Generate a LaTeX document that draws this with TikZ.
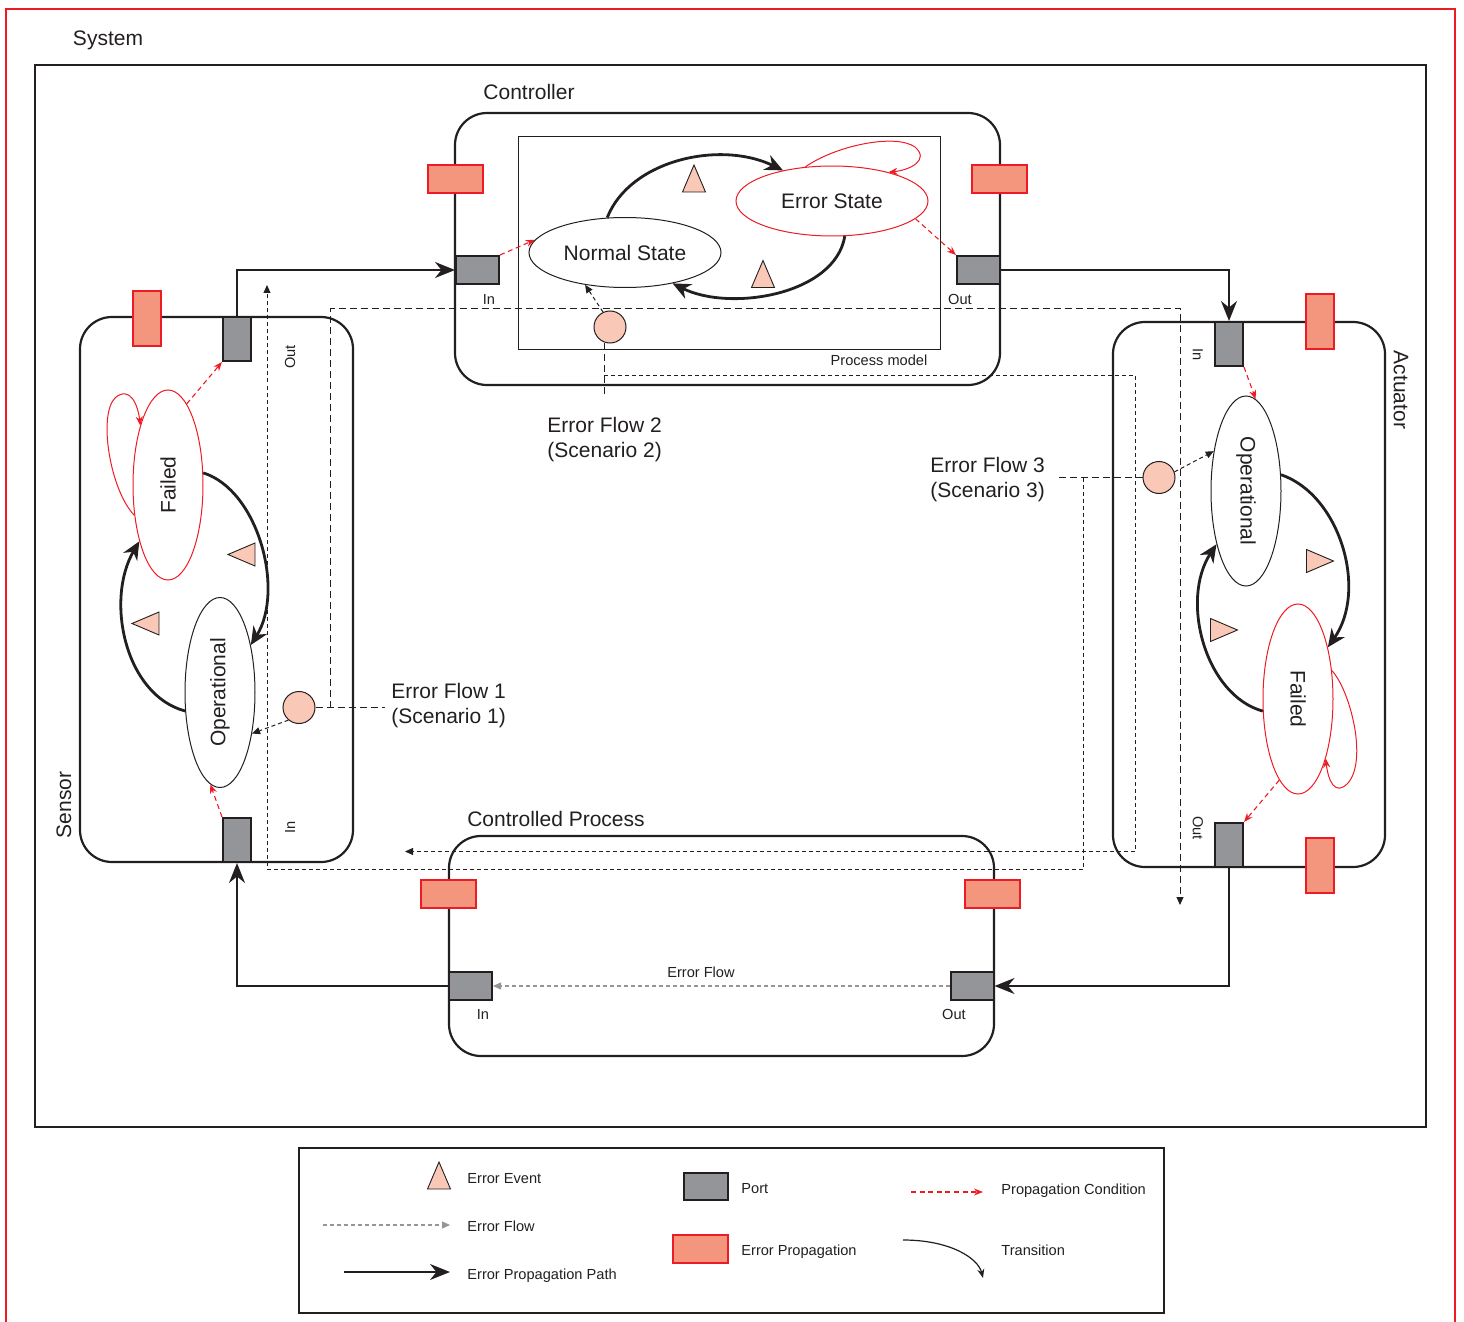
\documentclass[tikz,border=0pt]{standalone}
\usepackage{fontspec}
\setmainfont{Liberation Sans}
\usepackage{graphicx}
\usetikzlibrary{arrows.meta,shapes.geometric}
\definecolor{ink}{HTML}{231F20}
\definecolor{portgray}{HTML}{939598}
\definecolor{propfill}{HTML}{F4967D}
\definecolor{propred}{HTML}{ED1C24}
\definecolor{peach}{HTML}{F9C8B6}
\definecolor{flowgray}{HTML}{939598}
\tikzset{evt/.pic={\draw[ink,fill=peach,line width=0.45pt] (0,-13.5) -- (11.5,13.5) -- (-11.5,13.5) -- cycle;}}
\begin{document}
\begin{tikzpicture}[x=0.5pt,y=-0.5pt,
 bigtxt/.style={font=\fontsize{10.5}{12.5}\selectfont,text=ink,inner sep=0pt},
 smalltxt/.style={font=\fontsize{7.3}{9}\selectfont,text=ink,inner sep=0pt},
 compbox/.style={draw=ink,line width=1.1pt,rounded corners=16pt,inner sep=0pt},
 porth/.style={draw=ink,fill=portgray,line width=1pt,minimum width=21.5pt,minimum height=14pt,inner sep=0pt},
 portv/.style={porth,minimum width=14pt,minimum height=22pt},
 proph/.style={draw=propred,fill=propfill,line width=1pt,minimum width=27.5pt,minimum height=14pt,inner sep=0pt},
 propv/.style={proph,minimum width=14pt,minimum height=27.5pt},
 stel/.style={ellipse,draw=ink,fill=white,line width=0.5pt,inner sep=0pt,bigtxt},
 stelh/.style={stel,minimum width=96pt,minimum height=35pt},
 stelv/.style={stel,minimum width=35pt,minimum height=95pt},
 errst/.style={draw=propred},
 flowc/.style={circle,draw=ink,fill=peach,line width=0.5pt,minimum size=16pt,inner sep=0pt},
 trans/.style={draw=ink,line width=1.4pt,-{Stealth[length=9pt,width=8pt]}},
 epp/.style={draw=ink,line width=1pt,-{Stealth[length=10pt,width=8pt]}},
 prop/.style={draw=propred,line width=0.55pt,dash pattern=on 2.5pt off 1.8pt,-{Stealth[length=4.5pt,width=3.5pt]}},
 loopr/.style={draw=propred,line width=0.5pt,-{Stealth[length=4.5pt,width=3.5pt]}},
 flowlong/.style={draw=ink,line width=0.5pt,dash pattern=on 3.5pt off 2pt},
 flowshort/.style={draw=ink,line width=0.5pt,dash pattern=on 2pt off 1.5pt},
 ftip/.style={-{Triangle[length=4pt,width=3.5pt]}},
 cpflow/.style={draw=flowgray,line width=0.6pt,dash pattern=on 2pt off 1.5pt,-{Triangle[length=4pt,width=3.5pt]}}
]
\useasboundingbox (0,0) rectangle (1464,1322);
% outer frame
\coordinate (fr1) at (6,1322);
\coordinate (fr2) at (6,9);
\coordinate (fr3) at (1455,9);
\coordinate (fr4) at (1455,1322);
\draw[propred,line width=1.1pt] (fr1) -- (fr2) -- (fr3) -- (fr4);
\node[bigtxt] (lsys) at (108,40) {System};
\node[draw=ink,line width=1pt,minimum width=695.5pt,minimum height=531pt,inner sep=0pt] (sys) at (730.5,596) {};

% ---------- dashed error flows (under everything) ----------
\coordinate (f1a) at (330,707.5);
\coordinate (f1b) at (330,309);
\coordinate (f1c) at (1180,309);
\coordinate (f1d) at (1180,905);
\draw[flowlong,ftip] (f1a) -- (f1b) -- (f1c) -- (f1d);
\coordinate (f2a) at (604,343);
\coordinate (f2l) at (604,395);
\draw[flowlong] (f2a) -- (f2l);
\coordinate (f2b) at (604,375);
\coordinate (f2c) at (1135,375);
\coordinate (f2d) at (1135,851.5);
\coordinate (f2e) at (405,851.5);
\draw[flowshort,ftip] (f2b) -- (f2c) -- (f2d) -- (f2e);
\coordinate (f3a) at (1083,477.5);
\coordinate (f3b) at (1083,869);
\coordinate (f3c) at (267,869);
\coordinate (f3d) at (267,285);
\draw[flowshort,ftip] (f3a) -- (f3b) -- (f3c) -- (f3d);

% ---------- containers ----------
\node[compbox,minimum width=272.5pt,minimum height=136pt] (ctrl) at (727.5,249) {};
\node[draw=ink,line width=0.5pt,minimum width=211pt,minimum height=106pt,inner sep=0pt] (pm) at (729,243) {};
\node[compbox,minimum width=136.5pt,minimum height=272.5pt] (sens) at (216.5,589.5) {};
\node[compbox,minimum width=136pt,minimum height=272.5pt] (act) at (1249,594.5) {};
\node[compbox,minimum width=272.5pt,minimum height=110pt] (cp) at (721.5,946) {};

% labels
\node[bigtxt] (lctrl) at (529,92) {Controller};
\node[smalltxt] (lpm) at (879,360) {Process model};
\node[bigtxt,rotate=90] (lsens) at (64,805) {Sensor};
\node[bigtxt,rotate=-90] (lact) at (1401,390) {Actuator};
\node[bigtxt] (lcp) at (556,819) {Controlled Process};

% error propagations
\node[proph] (cpl) at (455.5,179) {};
\node[proph] (cpr) at (999.5,179) {};
\node[propv] (spr) at (147,318.5) {};
\node[propv] (apr1) at (1320,321.5) {};
\node[propv] (apr2) at (1320,865.5) {};
\node[proph] (cppl) at (448.5,894) {};
\node[proph] (cppr) at (992.5,894) {};

% ports
\node[porth] (cin) at (477.5,270) {};
\node[porth] (cout) at (978.5,270) {};
\node[portv] (sout) at (237,339) {};
\node[portv] (sin) at (237,840) {};
\node[portv] (ain) at (1229,344) {};
\node[portv] (aout) at (1229,845) {};
\node[porth] (cpin) at (470.5,986) {};
\node[porth] (cpout) at (972,986) {};

\node[smalltxt] (lcin) at (489,299) {In};
\node[smalltxt] (lcout) at (960,299) {Out};
\node[smalltxt,rotate=90] (lsout) at (290,357) {Out};
\node[smalltxt,rotate=90] (lsin) at (290,827) {In};
\node[smalltxt,rotate=-90] (lain) at (1198,355) {In};
\node[smalltxt,rotate=-90] (laout) at (1198,828) {Out};
\node[smalltxt] (lcpin) at (483,1014) {In};
\node[smalltxt] (lcpout) at (954,1014) {Out};

% ---------- states ----------
\node[stelh] (ns) at (625,252.5) {Normal State};
\node[stelh,errst] (es) at (832,201) {Error State};
\node[stelv,errst] (sf) at (168,485) {\rotatebox{90}{Failed}};
\node[stelv] (so) at (220,692.5) {\rotatebox{90}{Operational}};
\node[stelv] (ao) at (1246,491) {\rotatebox{-90}{Operational}};
\node[stelv,errst] (af) at (1298,699) {\rotatebox{-90}{Failed}};

% transitions
\draw[trans] (ns.117) .. controls (630,160) and (720,140) .. (es.148);
\draw[trans] (es.-70) .. controls (835,295) and (730,312) .. (ns.-33);
\draw[trans] (sf.19) .. controls (258,490) and (285,590) .. (so.57);
\draw[trans] (so.-152) .. controls (125,695) and (105,600) .. (sf.-117);
\draw[trans] (ao.25) .. controls (1340,495) and (1368,590) .. (af.60);
\draw[trans] (af.-161) .. controls (1205,695) and (1180,600) .. (ao.-119);

% self loops
\draw[loopr] (es.128) .. controls (835,146) and (895,133) .. (915,147) .. controls (930,160) and (910,170) .. (es.27);
\draw[loopr] (sf.-138) .. controls (110,490) and (98,415) .. (115,398) .. controls (130,385) and (138,405) .. (sf.115);
\draw[loopr] (af.40) .. controls (1350,690) and (1368,760) .. (1348,783) .. controls (1335,797) and (1328,780) .. (af.-65);

% error events
\pic at (694,178.5) {evt};
\pic at (763,274) {evt};
\pic[rotate=90] at (241.5,554.5) {evt};
\pic[rotate=90] at (145.5,623.5) {evt};
\pic[rotate=-90] at (1320,561) {evt};
\pic[rotate=-90] at (1224,630) {evt};

% propagation conditions
\draw[prop] (cin.north east) -- (ns.172);
\draw[prop] (es.-12) -- (cout.north west);
\draw[prop] (sf.77) -- (sout.south west);
\draw[prop] (sin.north west) -- (so.-96);
\draw[prop] (ain.south east) -- (ao.84);
\draw[prop] (af.-103) -- (aout.north east);

% error flow circles
\node[flowc] (cf1) at (299,707.5) {};
\node[flowc] (cf2) at (610,327) {};
\node[flowc] (cf3) at (1159,477.5) {};
\coordinate (f1l) at (385,707.5);
\draw[flowlong] (cf1.east) -- (f1l);
\coordinate (f3l) at (1055,477.5);
\draw[flowlong] (cf3.west) -- (f3l);
\draw[flowshort,ftip] (cf1.-130) -- (so.-52);
\draw[flowshort,ftip] (cf2.115) -- (ns.-141);
\draw[flowshort,ftip] (cf3.20) -- (ao.129);

\node[bigtxt,align=left,anchor=west] (lef1) at (391,705.5) {Error Flow 1\\(Scenario 1)};
\node[bigtxt,align=left,anchor=west] (lef2) at (547,439.5) {Error Flow 2\\(Scenario 2)};
\node[bigtxt,align=left,anchor=west] (lef3) at (930,480) {Error Flow 3\\(Scenario 3)};

% error propagation paths
\draw[epp] (sout.north) |- (cin.west);
\draw[epp] (cout.east) -| (ain.north);
\draw[epp] (aout.south) |- (cpout.east);
\draw[epp] (cpin.west) -| (sin.south);

% controlled process internal flow
\draw[cpflow] (cpout.west) -- (cpin.east);
\node[smalltxt] (lcpf) at (701,972) {Error Flow};

% ---------- legend ----------
\node[draw=ink,line width=1pt,minimum width=432.5pt,minimum height=82.5pt,inner sep=0pt] (leg) at (731.5,1230.5) {};
\pic at (439,1175.5) {evt};
\node[smalltxt,anchor=west] (lg1) at (467,1179) {Error Event};
\coordinate (lg2a) at (323,1225);
\coordinate (lg2b) at (450,1225);
\draw[cpflow] (lg2a) -- (lg2b);
\node[smalltxt,anchor=west] (lg2) at (467,1226) {Error Flow};
\coordinate (lg3a) at (344,1272);
\coordinate (lg3b) at (450,1272);
\draw[epp] (lg3a) -- (lg3b);
\node[smalltxt,anchor=west] (lg3) at (467,1276) {Error Propagation Path};
\node[porth,minimum width=22pt,minimum height=13.5pt] (lgport) at (706,1186.5) {};
\node[smalltxt,anchor=west] (lg4) at (741,1189) {Port};
\node[proph] (lgprop) at (700.5,1248.5) {};
\node[smalltxt,anchor=west] (lg5) at (741,1252) {Error Propagation};
\coordinate (lg6a) at (911,1192);
\coordinate (lg6b) at (983,1192);
\draw[prop] (lg6a) -- (lg6b);
\node[smalltxt,anchor=west] (lg6) at (1001,1191) {Propagation Condition};
\coordinate (lg7a) at (903,1240);
\coordinate (lg7b) at (983,1278);
\draw[draw=ink,line width=0.6pt,-{Stealth[length=4.5pt,width=3.5pt]}] (lg7a) .. controls (950,1240) and (978,1258) .. (lg7b);
\node[smalltxt,anchor=west] (lg7) at (1001,1250) {Transition};
\end{tikzpicture}
\end{document}
